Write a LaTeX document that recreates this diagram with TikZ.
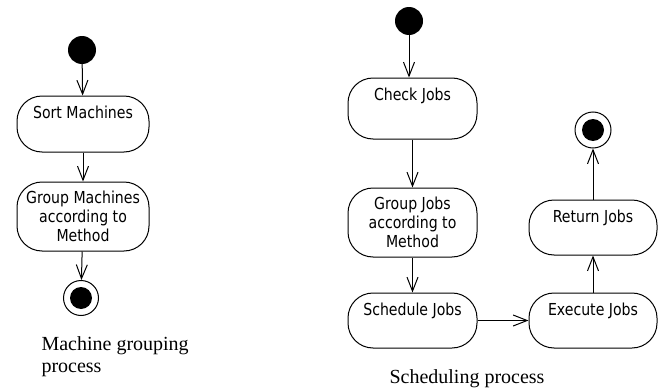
\documentclass[tikz,border=0pt]{standalone}
\usepackage{fontspec}
\usetikzlibrary{arrows.meta, positioning}
\newfontfamily\actfont[FakeStretch=0.855]{DejaVu Sans}
\newfontfamily\capfont{Liberation Serif}

\tikzset{
  act/.style={draw, line width=1pt, rounded corners=25pt, inner ysep=0pt, align=center,
    font=\actfont\fontsize{16.5}{19}\selectfont},
  oneline/.style={text height=22.5pt, text depth=#1},
  startnode/.style={circle, fill, minimum size=28pt, inner sep=0pt},
  endouter/.style={circle, draw, line width=1pt, minimum size=#1, inner sep=0pt},
  endinner/.style={circle, fill, minimum size=22pt, inner sep=0pt},
  flow/.style={line width=1pt, -{Straight Barb[length=14pt,width=11pt]}},
  caption/.style={anchor=base west, align=left, font=\capfont\fontsize{20}{22}\selectfont}
}

\begin{document}
\begin{tikzpicture}[x=1pt,y=-1pt]
\useasboundingbox (0,0) rectangle (662,388);

% machine grouping
\node[startnode] (start1) at (82,50) {};
\node[act, oneline=33.5pt, minimum width=132pt] (sortm) at (83,124) {Sort Machines};
\node[act, minimum width=132pt, minimum height=69pt] (groupm) at (83,216.5)
  {Group Machines\\according to\\Method};
\node[endouter=35pt] (end1) at (81,298) {};
\node[endinner] (end1dot) at (end1) {};
\node[caption] (cap1) at (38,372) {Machine grouping\\process};

\draw[flow] (start1) -- (sortm);
\draw[flow] (sortm) -- (groupm);
\draw[flow] (groupm) -- (end1);

% scheduling
\node[startnode] (start2) at (409,21) {};
\node[act, oneline=38.5pt, minimum width=129pt] (checkj) at (412.5,108.5) {Check Jobs};
\node[act, minimum width=129pt, minimum height=69pt] (groupj) at (412.5,222.5)
  {Group Jobs\\according to\\Method};
\node[act, oneline=32.5pt, minimum width=129pt] (schedj) at (412.5,320.5) {Schedule Jobs};
\node[act, oneline=32.5pt, minimum width=128pt] (execj) at (593,320.5) {Execute Jobs};
\node[act, oneline=32.5pt, minimum width=128pt] (retj) at (593,227.5) {Return Jobs};
\node[endouter=36pt] (end2) at (593,130) {};
\node[endinner] (end2dot) at (end2) {};
\node[caption] (cap2) at (386,383) {Scheduling process};

\draw[flow] (start2) -- (start2 |- checkj.north);
\draw[flow] (checkj) -- (groupj);
\draw[flow] (groupj) -- (schedj);
\draw[flow] (schedj) -- (execj);
\draw[flow] (execj) -- (retj);
\draw[flow] (retj) -- (end2);
\end{tikzpicture}
\end{document}
